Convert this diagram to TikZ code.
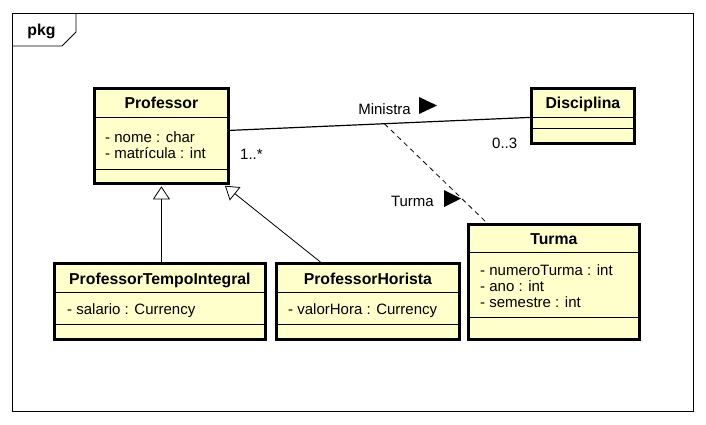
\documentclass[tikz,border=0pt]{standalone}
\usepackage{fontspec}
\setmainfont{Liberation Sans}
\usepackage{xcolor}
\usetikzlibrary{positioning, arrows.meta, calc}
\definecolor{classfill}{HTML}{FFFFCC}

\begin{document}
\begin{tikzpicture}[x=1pt, y=-1pt,
    font=\fontsize{15}{16}\selectfont,
    umlclass/.style={draw, line width=2.8pt, fill=classfill, inner sep=0pt},
    compline/.style={line width=0.8pt},
    classtitle/.style={font=\fontsize{15.8}{16}\selectfont\bfseries, inner sep=0pt, anchor=base},
    attrline/.style={inner sep=0pt, anchor=base west},
    mult/.style={inner sep=0pt, anchor=base west},
    assoc/.style={line width=1.2pt},
    generalize/.style={-{Triangle[open, width=17pt, length=13pt]}, line width=0.8pt, shorten >=1.5pt}]
  \useasboundingbox (0,0) rectangle (706,424);

  % package frame
  \draw[line width=0.8pt] (12,13) rectangle (693,411);
  \draw[line width=0.8pt] (12,46) -- (62,46) -- (76,32) -- (76,13);
  \node[font=\fontsize{15.8}{16}\selectfont\bfseries, inner sep=0pt, anchor=base] (pkg) at (41.5,35) {pkg};

  % classes
  \node[umlclass, minimum width=134pt, minimum height=95pt, anchor=north west] (prof) at (93,87) {};
  \draw[compline] ([yshift=-30pt]prof.north west) -- ([yshift=-30pt]prof.north east);
  \draw[compline] ([yshift=-82pt]prof.north west) -- ([yshift=-82pt]prof.north east);
  \node[classtitle] (proft) at ([yshift=-21pt]prof.north) {Professor};
  \node[attrline] (profa) at ([xshift=12pt, yshift=-55.5pt]prof.north west) {- nome : char};
  \node[attrline] (profb) at ([yshift=-16pt]profa.base west) {- matrícula : int};

  \node[umlclass, minimum width=103pt, minimum height=55pt, anchor=north west] (disc) at (530,87) {};
  \draw[compline] ([yshift=-30pt]disc.north west) -- ([yshift=-30pt]disc.north east);
  \draw[compline] ([yshift=-41pt]disc.north west) -- ([yshift=-41pt]disc.north east);
  \node[classtitle] (disct) at ([yshift=-21pt]disc.north) {Disciplina};

  \node[umlclass, minimum width=171pt, minimum height=115pt, anchor=north west] (turma) at (467,223) {};
  \draw[compline] ([yshift=-29pt]turma.north west) -- ([yshift=-29pt]turma.north east);
  \draw[compline] ([yshift=-94pt]turma.north west) -- ([yshift=-94pt]turma.north east);
  \node[classtitle] (turmat) at ([yshift=-21pt]turma.north) {Turma};
  \node[attrline] (turmaa) at ([xshift=13pt, yshift=-52.5pt]turma.north west) {- numeroTurma : int};
  \node[attrline] (turmab) at ([yshift=-16pt]turmaa.base west) {- ano : int};
  \node[attrline] (turmac) at ([yshift=-16pt]turmab.base west) {- semestre : int};

  \node[umlclass, minimum width=211pt, minimum height=76pt, anchor=north west] (pti) at (53,262) {};
  \draw[compline] ([yshift=-30pt]pti.north west) -- ([yshift=-30pt]pti.north east);
  \draw[compline] ([yshift=-62pt]pti.north west) -- ([yshift=-62pt]pti.north east);
  \node[classtitle] (ptit) at ([yshift=-22pt]pti.north) {ProfessorTempoIntegral};
  \node[attrline] (ptia) at ([xshift=14pt, yshift=-52pt]pti.north west) {- salario : Currency};

  \node[umlclass, minimum width=183pt, minimum height=76pt, anchor=north west] (ph) at (275,262) {};
  \draw[compline] ([yshift=-30pt]ph.north west) -- ([yshift=-30pt]ph.north east);
  \draw[compline] ([yshift=-62pt]ph.north west) -- ([yshift=-62pt]ph.north east);
  \node[classtitle] (pht) at ([yshift=-22pt]ph.north) {ProfessorHorista};
  \node[attrline] (pha) at ([xshift=13pt, yshift=-52pt]ph.north west) {- valorHora : Currency};

  % association Ministra with association class Turma
  \draw[assoc] ([yshift=5.5pt]prof.east) -- coordinate[pos=0.515] (assocmid) ([yshift=-1.5pt]disc.west);
  \draw[line width=0.8pt, dash pattern=on 5pt off 4pt] (assocmid) -- ([xshift=20pt]turma.north west);

  \node[inner sep=0pt, anchor=base east] (lblmin) at (411,114) {Ministra};
  \fill ([xshift=8pt]lblmin.base east) -- ++(0,-17) -- ++(18,8.5) -- cycle;
  \node[inner sep=0pt, anchor=base east] (lblturma) at (434,206) {Turma};
  \fill ([xshift=10pt, yshift=-1pt]lblturma.base east) -- ++(0,-17) -- ++(17,8.5) -- cycle;

  \node[mult] (multprof) at (240,159) {1..*};
  \node[mult] (multdisc) at (492,148) {0..3};

  % generalizations
  \draw[generalize] (prof.south |- pti.north) -- (prof.south);
  \draw[generalize] ([xshift=-47.5pt]ph.north) -- ([xshift=-6pt]prof.south east);
\end{tikzpicture}
\end{document}
